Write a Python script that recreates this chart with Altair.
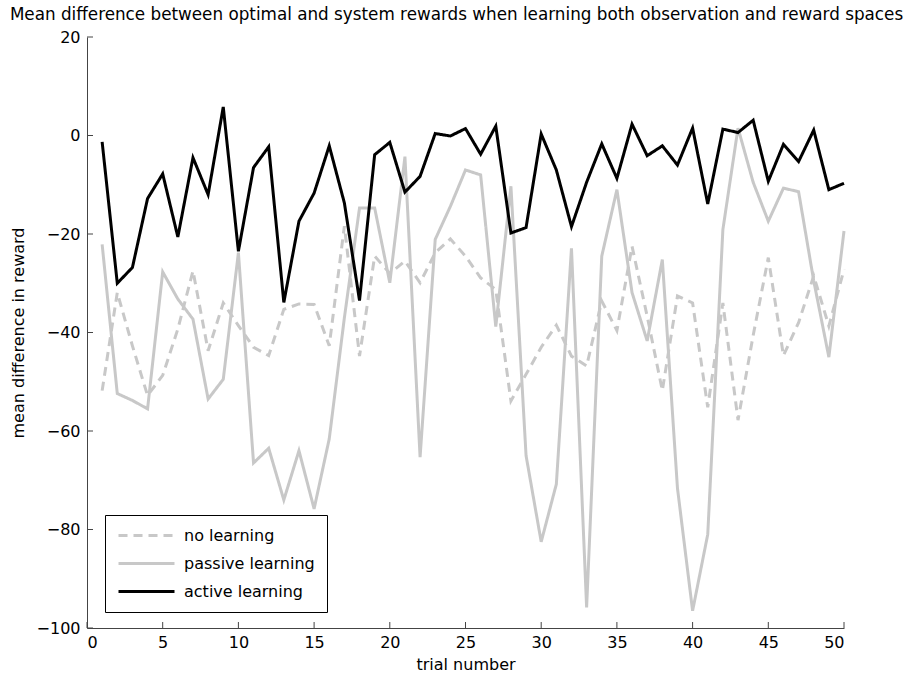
import altair as alt
import pandas as pd

trials = list(range(1, 51))

active = [-1.3, -30.0, -26.8, -12.8, -7.8, -20.6, -4.5, -12.0, 5.8, -23.5,
          -6.5, -2.3, -33.9, -17.4, -11.7, -2.1, -13.7, -33.5, -3.9, -1.4,
          -11.5, -8.3, 0.4, -0.1, 1.4, -3.8, 1.9, -19.8, -18.7, 0.3,
          -7.0, -18.5, -9.5, -1.7, -8.7, 2.3, -4.1, -2.1, -6.0, 1.5,
          -13.9, 1.3, 0.6, 3.1, -9.3, -1.8, -5.3, 1.1, -11.0, -9.7]

passive = [-22.1, -52.4, -53.8, -55.5, -27.7, -33.2, -37.3, -53.5, -49.5, -23.8,
           -66.5, -63.5, -74.0, -64.0, -75.8, -61.6, -37.0, -14.7, -14.7, -29.9,
           -4.3, -65.3, -21.1, -14.4, -7.0, -8.0, -38.8, -10.3, -65.0, -82.5,
           -70.8, -22.9, -95.8, -24.5, -11.0, -31.9, -41.7, -25.2, -71.6, -96.5,
           -81.0, -19.1, 1.5, -9.5, -17.4, -10.7, -11.4, -29.5, -45.0, -19.4]

no_learning = [-51.8, -31.9, -42.7, -52.8, -48.7, -39.3, -27.5, -43.7, -34.0, -38.6,
               -43.0, -44.7, -35.3, -34.2, -34.3, -42.7, -18.4, -44.8, -24.5, -28.0,
               -25.5, -29.9, -23.8, -21.0, -24.5, -28.9, -31.3, -53.9, -48.5, -43.0,
               -38.5, -44.8, -46.8, -33.6, -39.6, -22.5, -36.7, -51.8, -32.6, -34.0,
               -55.2, -34.0, -57.8, -40.6, -24.8, -44.7, -38.0, -28.5, -38.7, -27.2]

series_names = ["no learning", "passive learning", "active learning"]
series_colors = ["#c8c8c8", "#c8c8c8", "#000000"]
series_dashes = [[9, 6], [1, 0], [1, 0]]

x_ticks = list(range(0, 51, 5))
y_ticks = list(range(-100, 21, 20))

title_text = ("Mean difference between optimal and system rewards when learning "
              "both observation and reward spaces")

rows = []
for name, vals in zip(series_names, [no_learning, passive, active]):
    for t, v in zip(trials, vals):
        rows.append({"trial": t, "value": v, "series": name})
df = pd.DataFrame(rows)

W, H = 757, 591
FONT = "DejaVu Sans"

xscale = alt.Scale(domain=[0, 50], nice=False, zero=False)
yscale = alt.Scale(domain=[-100, 20], nice=False, zero=False)

xaxis = alt.Axis(values=x_ticks, title="trial number", tickSize=0,
                 labelPadding=6, titlePadding=6, grid=False,
                 domainColor="#444", labelFont=FONT, labelFontSize=16,
                 titleFont=FONT, titleFontSize=16, titleFontWeight="normal",
                 labelColor="black", titleColor="black", format="d")
yaxis = alt.Axis(values=y_ticks, title="mean difference in reward", tickSize=0,
                 labelPadding=7, titlePadding=10, grid=False,
                 domainColor="#444", labelFont=FONT, labelFontSize=16,
                 titleFont=FONT, titleFontSize=16, titleFontWeight="normal",
                 labelColor="black", titleColor="black", format="d")

legend = alt.Legend(
    title=None, orient="none", legendX=18, legendY=478, direction="vertical",
    symbolType="M-1,0H7", symbolSize=196, symbolStrokeWidth=3,
    labelOffset=50, labelFont=FONT, labelFontSize=16, labelColor="black",
    padding=12, rowPadding=11, strokeColor="black", fillColor="white",
    cornerRadius=0,
)

lines = alt.Chart(df).mark_line(strokeWidth=3).encode(
    x=alt.X("trial:Q", scale=xscale, axis=xaxis),
    y=alt.Y("value:Q", scale=yscale, axis=yaxis),
    color=alt.Color("series:N", scale=alt.Scale(domain=series_names, range=series_colors),
                    legend=legend),
    strokeDash=alt.StrokeDash("series:N",
                              scale=alt.Scale(domain=series_names, range=series_dashes),
                              legend=legend),
    detail="series:N",
)

yt = alt.Chart(pd.DataFrame({"value": y_ticks})).mark_rule(color="#444", strokeWidth=1).encode(
    y=alt.Y("value:Q", scale=yscale, axis=yaxis),
    x=alt.value(0), x2=alt.value(6),
)
xt = alt.Chart(pd.DataFrame({"trial": x_ticks})).mark_rule(color="#444", strokeWidth=1).encode(
    x=alt.X("trial:Q", scale=xscale, axis=xaxis),
    y=alt.value(H), y2=alt.value(H - 6),
)

chart = alt.layer(lines, yt, xt).properties(
    width=W, height=H,
    padding={"left": 87, "top": 37, "right": 70, "bottom": 46},
    autosize=alt.AutoSizeParams(type="none"),
    background="white",
    title=alt.TitleParams(text=title_text, font=FONT, fontSize=16.8, fontWeight="normal",
                          anchor="middle", offset=5, dx=-9, color="black"),
).configure_view(stroke=None)

chart.save("out.html", embed_options={"renderer": "svg", "actions": False})
